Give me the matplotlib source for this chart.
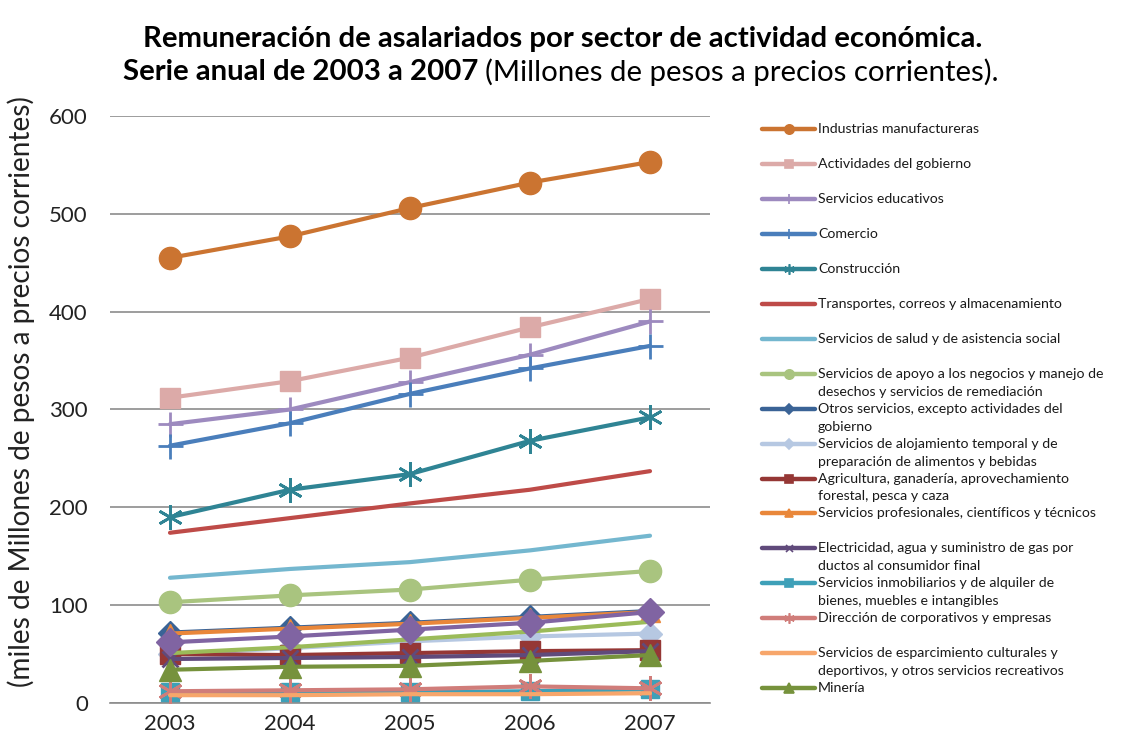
import matplotlib
matplotlib.use("Agg")
import matplotlib.pyplot as plt
from matplotlib.lines import Line2D

W, H = 1123, 741
FONT = ["Lato", "DejaVu Sans"]
plt.rcParams["font.family"] = FONT

# ---------------- data ----------------
years = [2003, 2004, 2005, 2006, 2007]
y_ticks = [0, 100, 200, 300, 400, 500, 600]

labels = [
    "Industrias manufactureras",
    "Actividades del gobierno",
    "Servicios educativos",
    "Comercio",
    "Construcción",
    "Transportes, correos y almacenamiento",
    "Servicios de salud y de asistencia social",
    "Servicios de apoyo a los negocios y manejo de\ndesechos y servicios de remediación",
    "Otros servicios, excepto actividades del\ngobierno",
    "Servicios de alojamiento temporal y de\npreparación de alimentos y bebidas",
    "Agricultura, ganadería, aprovechamiento\nforestal, pesca y caza",
    "Servicios profesionales, científicos y técnicos",
    "Electricidad, agua y suministro de gas por\nductos al consumidor final",
    "Servicios inmobiliarios y de alquiler de\nbienes, muebles e intangibles",
    "Dirección de corporativos y empresas",
    "Servicios de esparcimiento culturales y\ndeportivos, y otros servicios recreativos",
    "Minería",
]

manufactureras = [455, 477, 506, 532, 553]
gobierno = [312, 329, 353, 384, 413]
educativos = [285, 300, 328, 356, 390]
comercio = [263, 286, 316, 342, 365]
construccion = [190, 218, 234, 268, 292]
transportes = [174, 189, 204, 218, 237]
salud = [128, 137, 144, 156, 171]
apoyo_negocios = [103, 110, 116, 126, 135]
otros_servicios = [72, 77, 82, 88, 94]
alojamiento = [50, 56, 63, 68, 71]
agricultura = [50, 49, 51, 53, 54]
profesionales = [71, 76, 81, 87, 93]
electricidad = [45, 46, 47, 49, 53]
inmobiliarios = [11, 11, 11, 12, 14]
corporativos = [12, 13, 14, 17, 15]
esparcimiento = [8, 8, 9, 9, 10]
mineria = [34, 37, 38, 43, 49]

# series drawn in the plot but cut off from the legend
hidden_green = [51, 57, 65, 73, 83]
hidden_purple = [62, 68, 75, 82, 93]

values = [manufactureras, gobierno, educativos, comercio, construccion,
          transportes, salud, apoyo_negocios, otros_servicios, alojamiento,
          agricultura, profesionales, electricidad, inmobiliarios,
          corporativos, esparcimiento, mineria]

# ---------------- styles ----------------
STAR = (6, 2, 0)
styles = [
    # color, marker, plot markersize, mew
    ("#CB7431", "o", 16, 1),
    ("#DCAAA8", "s", 14, 1),
    ("#9D8ABF", "+", 18, 2),
    ("#4A7EBB", "+", 18, 2),
    ("#2F8494", STAR, 18, 2),
    ("#BE4B48", None, 0, 1),
    ("#74B7CF", None, 0, 1),
    ("#A9C47F", "o", 16, 1),
    ("#3A6396", "D", 12, 1),
    ("#B6C8E2", "D", 12, 1),
    ("#953735", "s", 14, 1),
    ("#E9873A", "^", 15, 1),
    ("#604A7B", "x", 12, 2),
    ("#3EA0B8", "s", 13, 1),
    ("#D07D7A", STAR, 18, 2),
    ("#F7A66B", None, 0, 1),
    ("#76923C", "^", 16, 1),
]
hidden_styles = [(hidden_green, "#9BBB59", None, 0, 1),
                 (hidden_purple, "#8064A2", "D", 14, 1)]

fig = plt.figure(figsize=(W / 100, H / 100), dpi=100)
ax = fig.add_axes([110 / W, 1 - 703 / H, 600 / W, 587 / H])

LW = 3.0
for vals, (c, m, ms, mew) in zip(values, styles):
    ax.plot(years, vals, color=c, lw=LW, marker=m, markersize=ms,
            markeredgewidth=mew, markeredgecolor=c, markerfacecolor=c,
            clip_on=False, solid_capstyle="round", zorder=3)
for vals, c, m, ms, mew in hidden_styles:
    ax.plot(years, vals, color=c, lw=LW, marker=m, markersize=ms,
            markeredgewidth=mew, markeredgecolor=c, markerfacecolor=c,
            clip_on=False, solid_capstyle="round", zorder=3)

ax.set_xlim(2002.5, 2007.5)
ax.set_ylim(0, 600)
ax.set_xticks(years)
ax.set_yticks(y_ticks)
ax.tick_params(axis="both", length=0, labelsize=16, colors="#222222")
ax.tick_params(axis="y", pad=16)
ax.tick_params(axis="x", pad=8)
ax.yaxis.grid(True, color="#8C8C8C", lw=1.2)
ax.set_axisbelow(True)
for s in ["top", "right", "left"]:
    ax.spines[s].set_visible(False)
ax.spines["bottom"].set_color("#8C8C8C")
ax.spines["bottom"].set_linewidth(1.2)

fig.canvas.draw()
renderer = fig.canvas.get_renderer()

ylab = fig.text(21 / W, 1 - 392 / H, "(miles de Millones de pesos a precios corrientes)",
                rotation=90, ha="center", va="center", fontsize=18, color="#222222")
hgt = ylab.get_window_extent(renderer).height
ylab.set_fontsize(18 * 590 / hgt)

# ---------------- title ----------------


def width_px(t):
    return t.get_window_extent(renderer).width


t1 = fig.text(0.5, 1 - 39 / H, "Remuneración de asalariados por sector de actividad económica.",
              ha="center", va="center", fontsize=16, fontweight="bold", color="black")
w = width_px(t1)
fs_title = 16 * 845 / w
t1.set_fontsize(fs_title)
t1.set_x(563 / W)

tb = fig.text(0, 1 - 72 / H, "Serie anual de 2003 a 2007", ha="left", va="center",
              fontsize=fs_title, fontweight="bold", color="black")
tn = fig.text(0, 1 - 72 / H, "(Millones de pesos a precios corrientes).", ha="left",
              va="center", fontsize=fs_title, color="black")
wb, wn = width_px(tb), width_px(tn)
gap = 7
start = 561 - (wb + wn + gap) / 2
tb.set_x(start / W)
tn.set_x((start + wb + gap) / W)

# ---------------- legend (drawn manually) ----------------
leg_y0, leg_dy, line2_dy = 129, 34.95, 18
for i, (lab, (c, m, ms, mew)) in enumerate(zip(labels, styles)):
    yy = leg_y0 + i * leg_dy
    fy = 1 - yy / H
    fig.add_artist(Line2D([762 / W, 815 / W], [fy, fy], color=c, lw=3.2,
                          solid_capstyle="round", transform=fig.transFigure))
    if m is not None:
        fig.add_artist(Line2D([788.5 / W], [fy], color=c, marker=m,
                              markersize=max(5, ms * 0.42), markeredgewidth=1.2,
                              markerfacecolor=c, markeredgecolor=c,
                              transform=fig.transFigure))
    for j, part in enumerate(lab.split("\n")):
        fig.text(818 / W, 1 - (yy + j * line2_dy) / H, part, ha="left",
                 va="center", fontsize=10.2, color="#1a1a1a")

fig.savefig("out.png", dpi=100)
